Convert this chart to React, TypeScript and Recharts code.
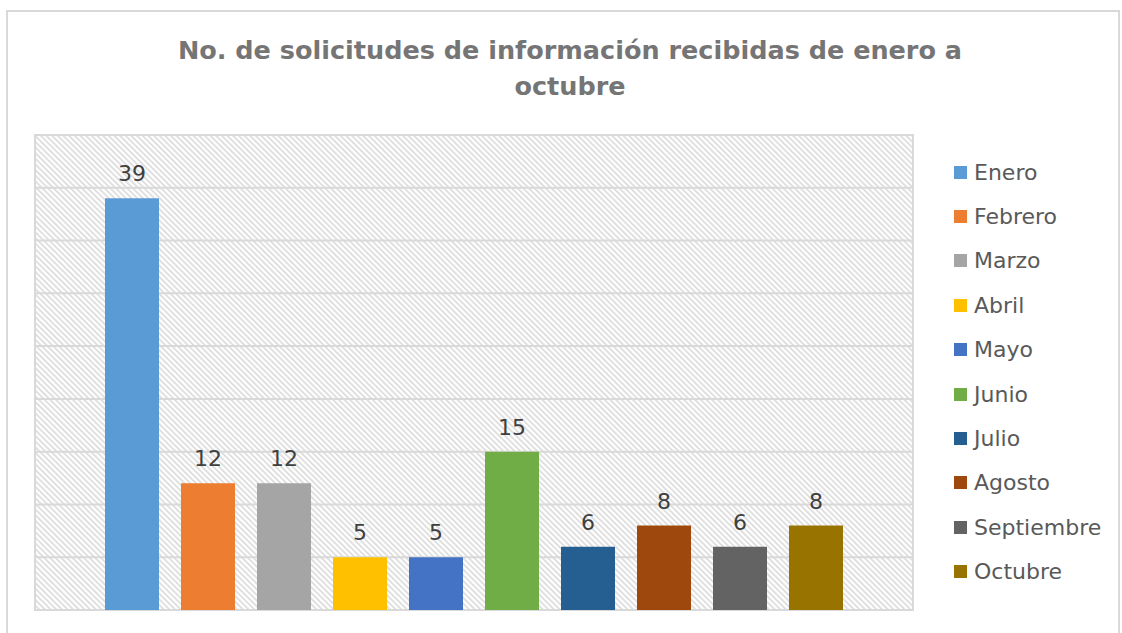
import { BarChart, Bar, XAxis, YAxis, CartesianGrid, Legend, LabelList, ReferenceArea } from 'recharts';

const months = ['Enero', 'Febrero', 'Marzo', 'Abril', 'Mayo', 'Junio', 'Julio', 'Agosto', 'Septiembre', 'Octubre'];
const requests = [39, 12, 12, 5, 5, 15, 6, 8, 6, 8];
const colors = ['#5B9BD5', '#ED7D31', '#A5A5A5', '#FFC000', '#4472C4', '#70AD47', '#255E91', '#9E480E', '#636363', '#997300'];
const yTicks = [0, 5, 10, 15, 20, 25, 30, 35, 40, 45];

const row: Record<string, string | number> = { name: 'Total' };
months.forEach((m, i) => {
  row[m] = requests[i];
});
const chartData = [row];

const FONT = '"Century Gothic", "DejaVu Sans", sans-serif';
const LEGEND_W = 170;

const LegendList = () => (
  <div style={{ fontFamily: FONT, fontSize: 22, color: '#595959' }}>
    {months.map((m, i) => (
      <div key={m} style={{ display: 'flex', alignItems: 'center', height: 44.4 }}>
        <div style={{ width: 13, height: 13, background: colors[i], marginRight: 7 }} />
        <span>{m}</span>
      </div>
    ))}
  </div>
);

export default function App() {
  return (
    <div style={{ position: 'absolute', left: 0, top: 0, width: 1122, height: 633, overflow: 'hidden', background: '#fff' }}>
      <style>{'body{margin:0}'}</style>
      <div
        style={{
          position: 'absolute',
          left: 6,
          top: 10,
          width: 1110,
          height: 640,
          border: '2px solid #d9d9d9',
        }}
      />
      <div
        style={{
          position: 'absolute',
          left: 0,
          top: 32,
          width: 1140,
          textAlign: 'center',
          fontFamily: FONT,
          fontWeight: 'bold',
          fontSize: 25.5,
          lineHeight: '36px',
          color: '#757575',
        }}
      >
        No. de solicitudes de información recibidas de enero a
        <br />
        octubre
      </div>
      <div style={{ position: 'absolute', left: 0, top: 0 }}>
        <BarChart
          width={1122}
          height={633}
          data={chartData}
          margin={{ top: 135, right: 209 - LEGEND_W, bottom: 23, left: 35 }}
          barSize={54}
          barGap={22}
        >
          <defs>
            <pattern id="hatch" width="4" height="4" patternUnits="userSpaceOnUse" patternTransform="rotate(-45)">
              <rect x="0" y="0" width="1.6" height="4" fill="#d9d9d9" />
            </pattern>
          </defs>
          <CartesianGrid vertical={false} stroke="#d9d9d9" strokeWidth={2} fill="url(#hatch)" fillOpacity={1} />
          <XAxis dataKey="name" hide />
          <YAxis hide domain={[0, 45]} ticks={yTicks} />
          <ReferenceArea y1={0} y2={45} fill="none" stroke="#d9d9d9" strokeWidth={2} />
          {months.map((m, i) => (
            <Bar key={m} dataKey={m} fill={colors[i]} isAnimationActive={false}>
              <LabelList dataKey={m} position="top" offset={17} fill="#404040" fontSize={22} fontFamily={FONT} />
            </Bar>
          ))}
          <Legend
            layout="vertical"
            verticalAlign="top"
            align="right"
            content={() => <LegendList />}
            wrapperStyle={{ left: 954, top: 150, width: LEGEND_W }}
          />
        </BarChart>
      </div>
    </div>
  );
}
